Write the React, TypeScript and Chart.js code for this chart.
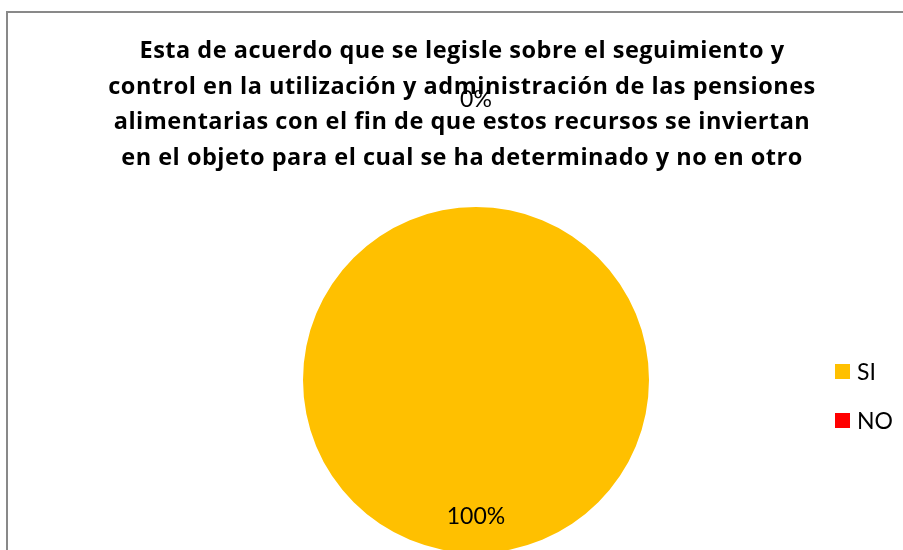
import React, { useEffect, useRef } from "react";
import { Chart, registerables } from "chart.js";

Chart.register(...registerables);

const categories: string[] = ["SI", "NO"];
const values: number[] = [100, 0];
const colors: string[] = ["#FFC000", "#FF0000"];
const titleLines: string[] = [
  "Esta de acuerdo que se legisle sobre el seguimiento y",
  "control en la utilización y administración de las pensiones",
  "alimentarias con el fin de que estos recursos se inviertan",
  "en el objeto para el cual se ha determinado y no en otro",
];

const FONT = "Lato, 'Open Sans', 'DejaVu Sans', sans-serif";
const TITLE_FONT = "'Open Sans', Lato, 'DejaVu Sans', sans-serif";

const overlayPlugin = {
  id: "overlay",
  afterDraw(chart: any) {
    const ctx = chart.ctx as CanvasRenderingContext2D;
    ctx.save();
    // title
    ctx.fillStyle = "#000";
    ctx.font = `bold 23.5px ${TITLE_FONT}`;
    (ctx as any).letterSpacing = "0.5px";
    ctx.textAlign = "center";
    ctx.textBaseline = "alphabetic";
    const titleX = 462;
    const firstBase = 58;
    const lineGap = 35.7;
    titleLines.forEach((t, i) => ctx.fillText(t, titleX, firstBase + i * lineGap));
    (ctx as any).letterSpacing = "0px";

    // data labels
    const meta = chart.getDatasetMeta(0);
    const data = chart.data.datasets[0].data as number[];
    const total = data.reduce((a, b) => a + b, 0);
    ctx.font = `23px ${FONT}`;
    ctx.textBaseline = "middle";
    meta.data.forEach((arc: any, i: number) => {
      const { x, y, startAngle, endAngle, outerRadius } = arc.getProps(
        ["x", "y", "startAngle", "endAngle", "outerRadius"],
        true
      );
      const mid = (startAngle + endAngle) / 2;
      const pct = Math.round((data[i] / total) * 100);
      const factor = data[i] === 0 ? 1.62 : 0.79;
      const lx = x + Math.cos(mid) * outerRadius * factor;
      const ly = y + Math.sin(mid) * outerRadius * factor;
      ctx.fillText(`${pct}%`, lx, ly);
    });

    // legend
    const labels = chart.data.labels as string[];
    const bg = chart.data.datasets[0].backgroundColor as string[];
    ctx.textAlign = "left";
    ctx.font = `23px ${FONT}`;
    labels.forEach((lab, i) => {
      const cy = 371.5 + i * 49;
      ctx.fillStyle = bg[i];
      ctx.fillRect(835, cy - 7.5, 15, 15);
      ctx.fillStyle = "#000";
      ctx.fillText(lab, 857, cy + 1);
    });
    ctx.restore();
  },
};

export default function App() {
  const ref = useRef<HTMLCanvasElement | null>(null);
  useEffect(() => {
    if (!ref.current) return;
    const chart = new Chart(ref.current, {
      type: "pie",
      data: {
        labels: categories,
        datasets: [
          {
            data: values,
            backgroundColor: colors,
            borderWidth: 0,
          },
        ],
      },
      options: {
        responsive: false,
        animation: false,
        layout: { padding: { left: 303, right: 254, top: 207, bottom: 47 } },
        plugins: {
          legend: { display: false },
          title: { display: false },
          tooltip: { enabled: false },
        },
      },
      plugins: [overlayPlugin],
    });
    return () => chart.destroy();
  }, []);

  return (
    <div
      style={{
        position: "fixed",
        left: 0,
        top: 0,
        width: 903,
        height: 550,
        overflow: "hidden",
        background: "#fff",
      }}
    >
      <div
        style={{
          position: "absolute",
          left: 6,
          top: 11,
          width: 1400,
          height: 1400,
          border: "2px solid #898989",
          boxSizing: "border-box",
        }}
      />
      <canvas
        ref={ref}
        width={903}
        height={600}
        style={{ position: "absolute", left: 0, top: 0, width: 903, height: 600 }}
      />
    </div>
  );
}
